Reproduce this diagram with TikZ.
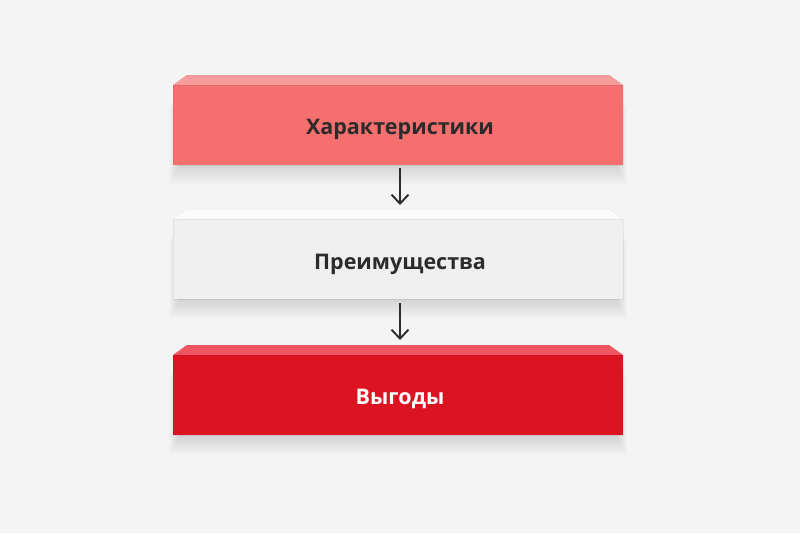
\documentclass[tikz,border=0pt]{standalone}
\usepackage{fontspec}
\setmainfont{Open Sans}
\usetikzlibrary{arrows.meta}
\definecolor{bg}{HTML}{F4F4F4}
\definecolor{redAfront}{HTML}{F56F6F}
\definecolor{redAtop}{HTML}{F89B9B}
\definecolor{greyfront}{HTML}{EFEFEF}
\definecolor{greytop}{HTML}{FAFAFA}
\definecolor{redBfront}{HTML}{DC1421}
\definecolor{redBtop}{HTML}{EE5761}
\definecolor{txt}{HTML}{2B2B2B}
\tikzset{
  x=1pt,y=-1pt,
  lbl/.style={font=\fontsize{21.5}{26}\selectfont\bfseries, text=txt},
  conn/.style={draw=txt, line width=1.9pt, -{Straight Barb[length=9pt,width=17pt,line width=1.9pt]}},
}
\newcommand{\boxthreed}[4]{% top y, front color, top color, name
  \foreach \k in {1,...,12}{
    \fill[black,opacity=0.010] (173-\k*1.0+8,#1+10+\k*1.8) rectangle (623+\k*1.0-8,#1+88+\k*1.8);
  }
  \fill[#3] (173,#1+10) -- (187,#1) -- (609,#1) -- (623,#1+10) -- cycle;
  \draw[black,opacity=0.05,line width=0.5pt] (173,#1+10) -- (187,#1) -- (609,#1) -- (623,#1+10);
  \fill[#2] (173,#1+10) rectangle (623,#1+90);
  \draw[black,opacity=0.06,line width=0.6pt] (173,#1+10) rectangle (623,#1+90);
  \coordinate (#4) at (398,#1+50);
}
\begin{document}
\begin{tikzpicture}
\fill[bg] (0,0) rectangle (800,533);
\useasboundingbox (0,0) rectangle (800,533);
\boxthreed{75}{redAfront}{redAtop}{b1}
\boxthreed{209}{greyfront}{greytop}{b2}
\boxthreed{345}{redBfront}{redBtop}{b3}
\node[lbl] (t1) at (400,129) {Характеристики};
\node[lbl] (t2) at (400,264) {Преимущества};
\node[lbl,text=white] (t3) at (400,399) {Выгоды};
\coordinate (a1s) at (400,168);
\coordinate (a1e) at (400,205);
\coordinate (a2s) at (400,303);
\coordinate (a2e) at (400,340);
\draw[conn] (a1s) -- (a1e);
\draw[conn] (a2s) -- (a2e);
\end{tikzpicture}
\end{document}
